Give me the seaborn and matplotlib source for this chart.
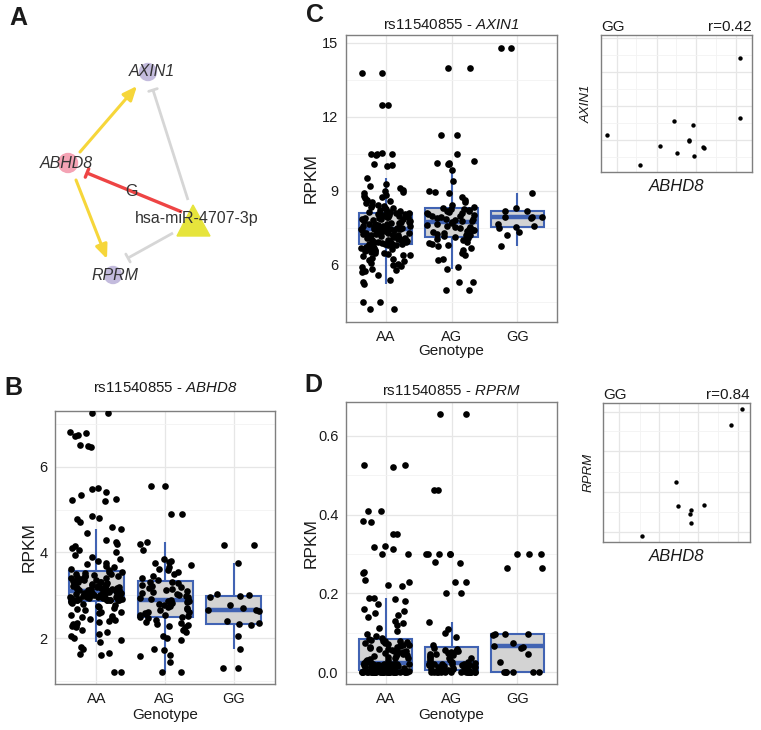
import matplotlib.pyplot as plt
import numpy as np
import pandas as pd
import seaborn as sns
from matplotlib.patches import Circle, Polygon

W, H = 761, 730
GENOTYPES = ["AA", "AG", "GG"]

# ---- panel B: ABHD8 expression by genotype ----
abhd8_aa = [
    7.25, 7.25, 6.80, 6.78, 6.75, 6.72, 6.50, 6.48, 6.45, 5.50,
    5.48, 5.40, 5.35, 5.25, 5.22, 5.20, 4.85, 4.80, 4.78, 4.72,
    4.60, 4.55, 4.45, 4.30, 4.25, 4.20, 4.15, 4.10, 4.05, 4.00,
    3.95, 3.90, 3.85, 3.80, 3.75, 3.72, 3.68, 3.65, 3.62, 3.58,
    3.55, 3.54, 3.52, 3.50, 3.50, 3.48, 3.46, 3.45, 3.44, 3.42,
    3.40, 3.40, 3.38, 3.36, 3.35, 3.34, 3.32, 3.30, 3.30, 3.28,
    3.27, 3.26, 3.25, 3.24, 3.22, 3.21, 3.20, 3.20, 3.19, 3.18,
    3.17, 3.16, 3.15, 3.15, 3.14, 3.13, 3.12, 3.12, 3.11, 3.10,
    3.09, 3.08, 3.08, 3.07, 3.06, 3.06, 3.05, 3.05, 3.04, 3.03,
    3.02, 3.02, 3.01, 3.00, 3.00, 2.99, 2.99, 2.98, 2.97, 2.97,
    2.96, 2.95, 2.95, 2.94, 2.94, 2.93, 2.93, 2.92, 2.92, 2.91,
    2.91, 2.90, 2.90, 2.90, 2.89, 2.89, 2.89, 2.88, 2.88, 2.88,
    2.86, 2.84, 2.82, 2.80, 2.78, 2.75, 2.72, 2.70, 2.68, 2.65,
    2.62, 2.60, 2.58, 2.55, 2.52, 2.50, 2.48, 2.45, 2.42, 2.40,
    2.38, 2.35, 2.32, 2.30, 2.28, 2.25, 2.20, 2.15, 2.10, 2.05,
    2.00, 1.95, 1.90, 1.80, 1.75, 1.65, 1.62, 1.60, 1.20, 1.20,
]
abhd8_ag = [
    5.55, 5.55, 4.90, 4.90, 4.25, 4.20, 4.05, 3.85, 3.80, 3.78,
    3.75, 3.70, 3.65, 3.62, 3.58, 3.55, 3.50, 3.45, 3.40, 3.36,
    3.32, 3.30, 3.28, 3.25, 3.22, 3.20, 3.18, 3.15, 3.12, 3.10,
    3.08, 3.05, 3.02, 3.00, 2.98, 2.96, 2.94, 2.92, 2.90, 2.89,
    2.87, 2.86, 2.85, 2.83, 2.80, 2.78, 2.75, 2.72, 2.70, 2.68,
    2.65, 2.62, 2.60, 2.58, 2.56, 2.55, 2.53, 2.52, 2.50, 2.49,
    2.46, 2.42, 2.38, 2.35, 2.32, 2.30, 2.28, 2.25, 2.20, 2.15,
    2.05, 2.00, 1.95, 1.75, 1.72, 1.60, 1.58, 1.45, 1.22, 1.20,
]
abhd8_gg = [4.17, 4.17, 3.75, 3.02, 3.00, 2.98, 2.95, 2.77, 2.70, 2.65,
            2.65, 2.63, 2.40, 2.35, 2.33, 2.30, 2.05, 1.75, 1.30, 1.30]

# ---- panel C: AXIN1 expression by genotype ----
axin1_aa = [
    13.80, 13.80, 12.50, 12.50, 10.55, 10.50, 10.50, 10.48, 10.45, 10.10,
    10.05, 10.02, 9.54, 9.30, 9.20, 9.10, 9.05, 9.00, 8.95, 8.90,
    8.85, 8.80, 8.75, 8.70, 8.65, 8.60, 8.55, 8.50, 8.45, 8.42,
    8.40, 8.36, 8.32, 8.30, 8.26, 8.22, 8.20, 8.16, 8.14, 8.12,
    8.09, 8.08, 8.06, 8.05, 8.03, 8.02, 8.00, 7.98, 7.96, 7.95,
    7.93, 7.92, 7.90, 7.88, 7.86, 7.85, 7.82, 7.80, 7.78, 7.76,
    7.74, 7.72, 7.70, 7.68, 7.66, 7.65, 7.62, 7.60, 7.58, 7.56,
    7.55, 7.53, 7.52, 7.50, 7.49, 7.48, 7.47, 7.46, 7.46, 7.45,
    7.44, 7.42, 7.40, 7.38, 7.36, 7.35, 7.33, 7.31, 7.30, 7.28,
    7.26, 7.25, 7.23, 7.21, 7.20, 7.18, 7.16, 7.15, 7.13, 7.11,
    7.10, 7.08, 7.06, 7.05, 7.03, 7.01, 7.00, 6.98, 6.96, 6.95,
    6.93, 6.92, 6.90, 6.89, 6.88, 6.87, 6.86, 6.85, 6.85, 6.84,
    6.82, 6.80, 6.78, 6.75, 6.72, 6.70, 6.68, 6.65, 6.62, 6.60,
    6.58, 6.55, 6.52, 6.50, 6.48, 6.45, 6.42, 6.40, 6.35, 6.30,
    6.25, 6.20, 6.15, 6.10, 6.05, 6.00, 5.95, 5.90, 5.85, 5.80,
    5.75, 5.70, 5.60, 5.40, 5.30, 5.25, 4.50, 4.50, 4.20, 4.20,
]
axin1_ag = [
    14.00, 14.00, 11.25, 11.25, 10.50, 10.20, 10.15, 10.12, 10.10, 10.10,
    9.85, 9.40, 9.00, 8.95, 8.90, 8.75, 8.65, 8.55, 8.45, 8.35,
    8.29, 8.27, 8.25, 8.22, 8.20, 8.18, 8.15, 8.12, 8.10, 8.06,
    8.03, 8.00, 7.97, 7.94, 7.91, 7.88, 7.85, 7.82, 7.80, 7.78,
    7.74, 7.70, 7.66, 7.62, 7.58, 7.55, 7.52, 7.50, 7.46, 7.43,
    7.40, 7.36, 7.33, 7.30, 7.26, 7.23, 7.20, 7.17, 7.15, 7.13,
    7.10, 7.05, 7.00, 6.95, 6.90, 6.85, 6.80, 6.75, 6.70, 6.60,
    6.50, 6.40, 6.25, 6.20, 5.90, 5.85, 5.30, 5.30, 5.00, 5.00,
]
axin1_gg = [14.78, 14.78, 8.92, 8.30, 8.20, 8.18, 7.95, 7.95, 7.93,
            7.90, 7.65, 7.60, 7.52, 7.50, 7.35, 7.20, 6.75]

# ---- panel D: RPRM expression by genotype ----
rprm_aa = [
    0.0, 0.0, 0.0, 0.0, 0.0, 0.0, 0.0, 0.0, 0.0, 0.0,
    0.0, 0.0, 0.0, 0.0, 0.0, 0.0, 0.0, 0.0, 0.0, 0.0,
    0.0, 0.0, 0.0, 0.0, 0.0, 0.0, 0.0, 0.0, 0.0, 0.0,
    0.002, 0.003, 0.003, 0.004, 0.004, 0.005, 0.005, 0.006,
    0.006, 0.007, 0.007, 0.008, 0.008, 0.009, 0.009, 0.010, 0.010, 0.011,
    0.011, 0.012, 0.012, 0.013, 0.013, 0.014, 0.014, 0.015, 0.015, 0.015,
    0.016, 0.016, 0.017, 0.017, 0.018, 0.018, 0.018, 0.019, 0.019, 0.020,
    0.020, 0.020, 0.021, 0.021, 0.021, 0.022, 0.022, 0.022,
    0.023, 0.025, 0.026, 0.028, 0.030, 0.031, 0.033, 0.035, 0.036, 0.038,
    0.040, 0.041, 0.043, 0.045, 0.046, 0.048, 0.050, 0.052, 0.053, 0.055,
    0.057, 0.058, 0.060, 0.062, 0.063, 0.065, 0.067, 0.068, 0.070, 0.072,
    0.073, 0.075, 0.076, 0.078, 0.079, 0.080, 0.081, 0.083,
    0.525, 0.525, 0.522, 0.410, 0.410, 0.385, 0.382, 0.350, 0.350, 0.320,
    0.318, 0.312, 0.300, 0.300, 0.255, 0.252, 0.235, 0.228, 0.222, 0.220,
    0.189, 0.188, 0.185, 0.180, 0.172, 0.160, 0.155, 0.150, 0.145, 0.140,
    0.130, 0.125, 0.120, 0.112, 0.105, 0.098, 0.092, 0.088,
]
rprm_ag = [
    0.0, 0.0, 0.0, 0.0, 0.0, 0.0, 0.0, 0.0, 0.0, 0.0,
    0.0, 0.0, 0.0, 0.0, 0.0, 0.0, 0.002, 0.003, 0.004, 0.005,
    0.005, 0.006, 0.007, 0.008, 0.009, 0.010, 0.011, 0.012, 0.013, 0.014,
    0.015, 0.016, 0.017, 0.018, 0.019, 0.020, 0.020, 0.021, 0.021, 0.022,
    0.023, 0.025, 0.027, 0.029, 0.031, 0.033, 0.035, 0.037, 0.039, 0.041,
    0.043, 0.045, 0.047, 0.049, 0.051, 0.053, 0.055, 0.057, 0.059, 0.062,
    0.655, 0.655, 0.462, 0.462, 0.300, 0.300, 0.300, 0.300, 0.300, 0.280,
    0.278, 0.230, 0.230, 0.200, 0.200, 0.128, 0.110, 0.100, 0.090, 0.070,
]
rprm_gg = [0.0, 0.0, 0.0, 0.0, 0.0, 0.0, 0.025, 0.045, 0.062, 0.064, 0.066,
           0.075, 0.095, 0.097, 0.097, 0.098, 0.265, 0.265, 0.300, 0.300, 0.300]

# ---- GG-only correlation insets (ABHD8 vs target) ----
gg_abhd8_c = [4.20, 4.20, 2.77, 3.19, 1.30, 3.09, 3.09, 2.46, 3.40, 3.43, 2.83, 3.21, 2.04]
gg_axin1 = [14.80, 10.25, 10.05, 9.73, 9.01, 8.66, 8.59, 8.21, 8.14, 8.02, 7.67, 7.47, 6.75]
gg_abhd8_d = [4.15, 3.87, 2.55, 2.61, 3.24, 2.91, 2.89, 2.92, 1.75]
gg_rprm = [0.300, 0.262, 0.127, 0.071, 0.072, 0.060, 0.051, 0.029, 0.0]

BOX_FILL = "#D3D3D3"
BOX_LINE = "#4163B3"
BORDER = "#7F7F7F"
TEXT = "#1A1A1A"


def rect(left, top, right, bottom):
    return [left / W, 1 - bottom / H, (right - left) / W, (bottom - top) / H]


def long_frame(aa, ag, gg):
    return pd.DataFrame({
        "Genotype": ["AA"] * len(aa) + ["AG"] * len(ag) + ["GG"] * len(gg),
        "RPKM": aa + ag + gg,
    })


def style_frame(ax):
    ax.set_facecolor("white")
    for sp in ax.spines.values():
        sp.set_color(BORDER)
        sp.set_linewidth(1.0)
    ax.grid(which="major", color="#E6E6E6", lw=0.9)
    ax.grid(which="minor", color="#F3F3F3", lw=0.6)
    ax.set_axisbelow(True)


def box_panel(ax, df, gene, yticks, yminor, ylim, title_y, ylab_x, xlab_y, seed):
    sns.boxplot(data=df, x="Genotype", y="RPKM", order=GENOTYPES, color=BOX_FILL,
                linecolor=BOX_LINE, linewidth=1.5, width=0.8, saturation=1,
                showfliers=False, showcaps=False, medianprops={"linewidth": 3.2}, ax=ax)
    np.random.seed(seed)
    sns.stripplot(data=df, x="Genotype", y="RPKM", order=GENOTYPES, color="black",
                  size=4.8, jitter=0.38, linewidth=0, ax=ax, zorder=3)
    ax.set_xlim(-0.6, 2.6)
    ax.set_ylim(*ylim)
    ax.set_yticks(yticks)
    ax.set_yticks(yminor, minor=True)
    style_frame(ax)
    ax.tick_params(which="major", direction="out", length=3.5, color="#555555",
                   labelsize=10.5, labelcolor=TEXT, pad=2)
    ax.tick_params(which="minor", length=0)
    ax.set_xlabel("Genotype", fontsize=11, color=TEXT)
    ax.set_ylabel("RPKM", fontsize=12.5, color=TEXT)
    ax.yaxis.set_label_coords(ylab_x, 0.5)
    ax.xaxis.set_label_coords(0.5, xlab_y)
    ax.text(0.5, title_y, "rs11540855 - $" + gene + "$", transform=ax.transAxes,
            ha="center", va="center", fontsize=10.8, color=TEXT)


def corr_panel(ax, x, y, r_text, gene, xlim, ylim, xmaj, xmin, ymaj, ymin):
    sns.scatterplot(x=x, y=y, color="black", s=10, linewidth=0, ax=ax, zorder=3)
    ax.set_xlim(*xlim)
    ax.set_ylim(*ylim)
    ax.set_xticks(xmaj)
    ax.set_xticks(xmin, minor=True)
    ax.set_yticks(ymaj)
    ax.set_yticks(ymin, minor=True)
    style_frame(ax)
    ax.tick_params(which="both", length=0, labelbottom=False, labelleft=False)
    ax.text(0.0, 1.01, "GG", transform=ax.transAxes, ha="left", va="bottom",
            fontsize=11, color=TEXT)
    ax.text(1.0, 1.01, r_text, transform=ax.transAxes, ha="right", va="bottom",
            fontsize=11, color=TEXT)
    ax.set_xlabel("ABHD8", fontsize=12, style="italic", color=TEXT, labelpad=5)
    ax.set_ylabel(gene, fontsize=9.5, style="italic", color=TEXT, labelpad=6)


def inhibit(ax, start, end, color, lw):
    p0, p1 = np.array(start, float), np.array(end, float)
    ax.plot([p0[0], p1[0]], [p0[1], p1[1]], color=color, lw=lw, solid_capstyle="butt", zorder=1)
    d = (p1 - p0) / np.linalg.norm(p1 - p0)
    n = np.array([-d[1], d[0]]) * 4.5
    ax.plot([p1[0] - n[0], p1[0] + n[0]], [p1[1] - n[1], p1[1] + n[1]],
            color=color, lw=lw, zorder=1)


def network_panel(ax):
    ax.set_xlim(0, 300)
    ax.set_ylim(330, 0)
    ax.axis("off")
    yellow = "#F6D63A"
    for start, end in [((80, 152), (137, 86)), ((76, 180), (107, 259))]:
        ax.annotate("", xy=end, xytext=start, zorder=1,
                    arrowprops=dict(arrowstyle="-|>,head_length=0.7,head_width=0.3",
                                    color=yellow, lw=2.2, shrinkA=0, shrinkB=0))
    inhibit(ax, (182, 212), (87, 173), "#EE4444", 2.4)
    inhibit(ax, (188, 200), (153, 90), "#D6D6D6", 2.0)
    inhibit(ax, (173, 233), (128, 258), "#D6D6D6", 2.0)
    ax.add_patch(Circle((148, 72), 8.5, color="#C3BBDD", zorder=2))
    ax.add_patch(Circle((68, 163), 9.5, color="#F4A3B4", zorder=2))
    ax.add_patch(Circle((113, 275), 8.5, color="#C3BBDD", zorder=2))
    ax.add_patch(Polygon([(193, 205), (177, 236), (210, 236)], color="#E6E43C", zorder=2))
    for label, pos in [("AXIN1", (152, 72)), ("ABHD8", (66, 163)), ("RPRM", (115, 276))]:
        ax.text(*pos, label, ha="center", va="center", fontsize=11.5, style="italic",
                color="#333333", zorder=4)
    ax.text(197, 218, "hsa-miR-4707-3p", ha="center", va="center", fontsize=11.5,
            color="#333333", zorder=4)
    ax.text(132, 192, "G", ha="center", va="center", fontsize=11.5, color="#333333", zorder=4)


sns.set_theme(style="white")
plt.rcParams["font.family"] = ["Liberation Sans", "DejaVu Sans"]
# gene names in titles go through mathtext; italic for letters and digits alike
plt.rcParams["mathtext.fontset"] = "custom"
plt.rcParams["mathtext.rm"] = "Liberation Sans:italic"
plt.rcParams["mathtext.it"] = "Liberation Sans:italic"
plt.rcParams["mathtext.default"] = "it"

fig = plt.figure(figsize=(W / 100, H / 100), dpi=100)
fig.patch.set_facecolor("white")

ax_a = fig.add_axes(rect(0, 0, 300, 330))
network_panel(ax_a)

ax_b = fig.add_axes(rect(55, 411, 275, 684))
box_panel(ax_b, long_frame(abhd8_aa, abhd8_ag, abhd8_gg), "ABHD8",
          [2, 4, 6], [1, 3, 5, 7], (0.93, 7.3), 1.084, -0.082, -0.088, 1)

ax_c = fig.add_axes(rect(346, 35, 557, 322))
box_panel(ax_c, long_frame(axin1_aa, axin1_ag, axin1_gg), "AXIN1",
          [6, 9, 12, 15], [4.5, 7.5, 10.5, 13.5], (3.69, 15.32), 1.035, -0.128, -0.077, 2)

ax_d = fig.add_axes(rect(346, 402, 557, 684))
box_panel(ax_d, long_frame(rprm_aa, rprm_ag, rprm_gg), "RPRM",
          [0.0, 0.2, 0.4, 0.6], [0.1, 0.3, 0.5], (-0.03, 0.686), 1.039, -0.128, -0.085, 3)
ax_d.set_yticklabels(["0.0", "0.2", "0.4", "0.6"])

ax_cs = fig.add_axes(rect(601, 35, 752, 172))
corr_panel(ax_cs, gg_abhd8_c, gg_axin1, "r=0.42", "AXIN1",
           (1.18, 4.47), (6.25, 16.49), [1.52, 2.39, 3.26, 4.13], [1.95, 2.82, 3.69],
           [8.66, 11.20, 13.74, 16.28], [7.39, 9.93, 12.47, 15.01])

ax_ds = fig.add_axes(rect(603, 403, 750, 542))
corr_panel(ax_ds, gg_abhd8_d, gg_rprm, "r=0.84", "RPRM",
           (0.81, 4.33), (-0.015, 0.315), [1.19, 2.14, 3.09, 4.05], [1.69, 2.62, 3.57],
           [0.009, 0.104, 0.200, 0.294], [0.056, 0.151, 0.248])

for letter, (px, py) in {"A": (18, 18), "B": (13, 388), "C": (315, 15), "D": (313, 385)}.items():
    fig.text(px / W, 1 - py / H, letter, ha="center", va="center", fontsize=18,
             fontweight="bold", color=TEXT)

fig.savefig("out.png", dpi=100, facecolor="white")
